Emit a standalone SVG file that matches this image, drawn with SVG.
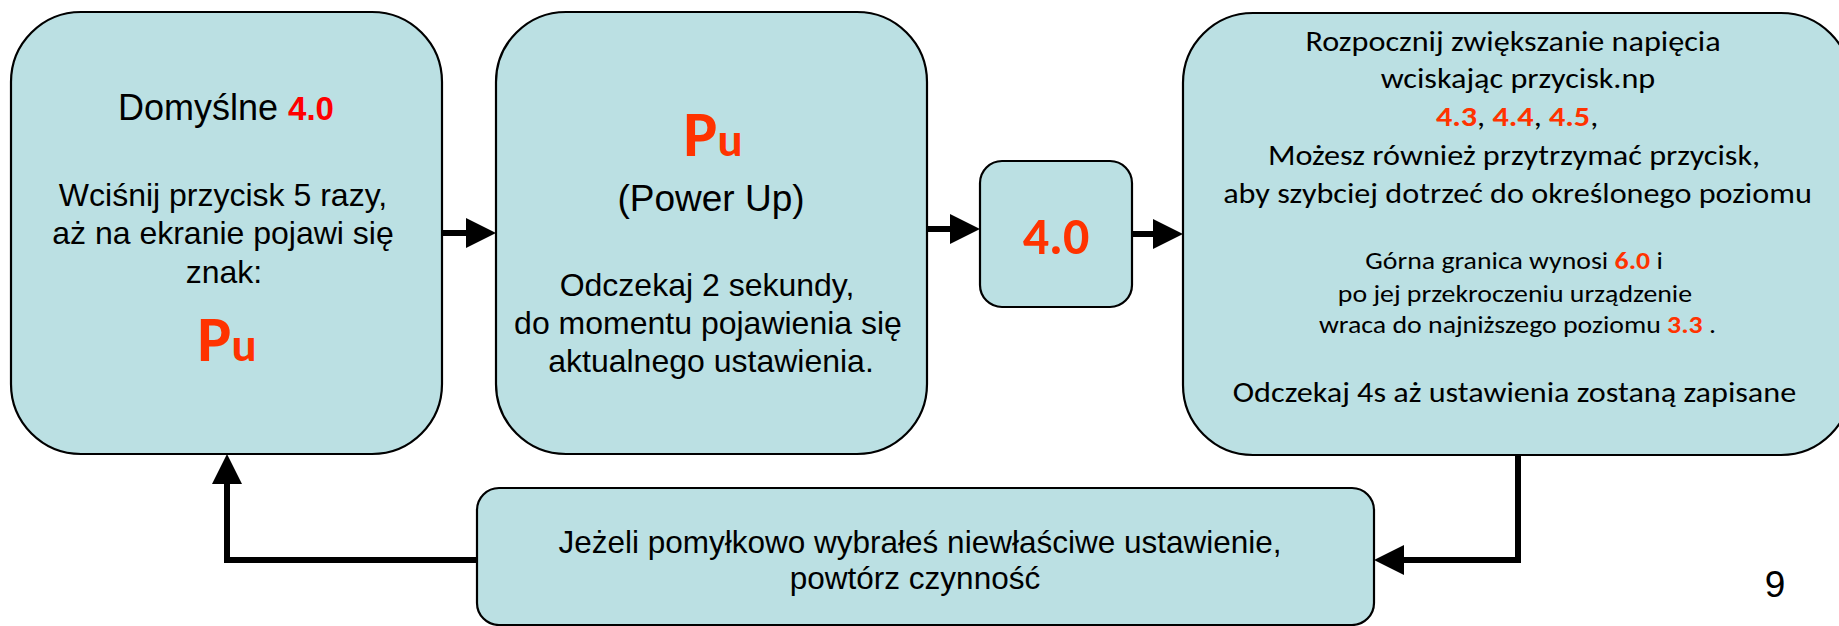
<svg xmlns="http://www.w3.org/2000/svg" width="1839" height="626" viewBox="0 0 1839 626">
<style>
.box{fill:#BBE0E3;stroke:#000;stroke-width:2.2}
.ar{font-family:"Liberation Sans",Arial,sans-serif;fill:#000;text-anchor:middle}
.cb{font-family:Carlito,Calibri,Lato,sans-serif;fill:#000;text-anchor:middle}
.big{font-size:28px}
.small{font-size:24.2px}
.red{fill:#FF3300;font-weight:bold;font-family:Carlito,Calibri,Lato,sans-serif}
.conn{fill:none;stroke:#000;stroke-width:6;stroke-linejoin:miter}
</style>
<defs>
<marker id="ah" markerUnits="userSpaceOnUse" markerWidth="30" markerHeight="30" refX="5" refY="15" orient="auto" viewBox="0 0 30 30">
<path d="M0,0 L30,15 L0,30 z" fill="#000"/>
</marker>
</defs>
<rect width="1839" height="626" fill="#fff"/>
<g id="connectors">
<path class="conn" d="M442,233 H471" marker-end="url(#ah)"/>
<path class="conn" d="M927,229 H955" marker-end="url(#ah)"/>
<path class="conn" d="M1132,234 H1158" marker-end="url(#ah)"/>
<path class="conn" d="M1518,455 V560 H1399" marker-end="url(#ah)"/>
<path class="conn" d="M477,560 H227 V479" marker-end="url(#ah)"/>
</g>
<g id="node-default">
<rect class="box" x="11" y="12" width="431" height="442" rx="70"/>
<text class="ar" x="226" y="120" font-size="36">Domyślne <tspan font-family="'Liberation Sans',Arial,sans-serif" font-weight="bold" font-size="33" fill="#FF0000">4.0</tspan></text>
<text class="ar" x="223" y="206" font-size="32">Wciśnij przycisk 5 razy,</text>
<text class="ar" x="223" y="244" font-size="32">aż na ekranie pojawi się</text>
<text class="ar" x="224" y="283" font-size="32">znak:</text>
<text class="ar" x="227" y="361"><tspan class="red" font-size="64">P</tspan><tspan class="red" font-size="47">u</tspan></text>
</g>
<g id="node-powerup">
<rect class="box" x="496" y="12" width="431" height="442" rx="70"/>
<text class="ar" x="713" y="156"><tspan class="red" font-size="64">P</tspan><tspan class="red" font-size="47">u</tspan></text>
<text class="ar" x="711" y="211" font-size="37">(Power Up)</text>
<text class="ar" x="707" y="296" font-size="32">Odczekaj 2 sekundy,</text>
<text class="ar" x="708" y="334" font-size="32">do momentu pojawienia się</text>
<text class="ar" x="711" y="372" font-size="32">aktualnego ustawienia.</text>
</g>
<g id="node-value">
<rect class="box" x="980" y="161" width="152" height="146" rx="22"/>
<text class="ar" x="1056" y="254"><tspan class="red" font-size="52">4.0</tspan></text>
</g>
<g id="node-increase">
<rect class="box" x="1183" y="13" width="668" height="442" rx="70"/>
<g transform="translate(1516,0) scale(1.15,1)">
<text class="cb big" x="-2.6" y="51">Rozpocznij zwiększanie napięcia</text>
<text class="cb big" x="1.7" y="88">wciskając przycisk.np</text>
<text class="cb big" x="0.9" y="126"><tspan class="red">4.3</tspan>, <tspan class="red">4.4</tspan>, <tspan class="red">4.5</tspan>,</text>
<text class="cb big" x="-1.7" y="165">Możesz również przytrzymać przycisk,</text>
<text class="cb big" x="1.3" y="203">aby szybciej dotrzeć do określonego poziomu</text>
<text class="cb small" x="-1.7" y="269">Górna granica wynosi <tspan class="red">6.0</tspan> i</text>
<text class="cb small" x="-0.9" y="302">po jej przekroczeniu urządzenie</text>
<text class="cb small" x="1.3" y="333">wraca do najniższego poziomu <tspan class="red">3.3</tspan> .</text>
<text class="cb big" x="-1.3" y="402">Odczekaj 4s aż ustawienia zostaną zapisane</text>
</g>
</g>
<g id="node-retry">
<rect class="box" x="477" y="488" width="897" height="137" rx="22"/>
<text class="ar" x="920" y="553" font-size="31.5">Jeżeli pomyłkowo wybrałeś niewłaściwe ustawienie,</text>
<text class="ar" x="915" y="589" font-size="31.5">powtórz czynność</text>
</g>
<g id="page-number">
<text class="ar" x="1775" y="597" font-size="37">9</text>
</g>
</svg>
